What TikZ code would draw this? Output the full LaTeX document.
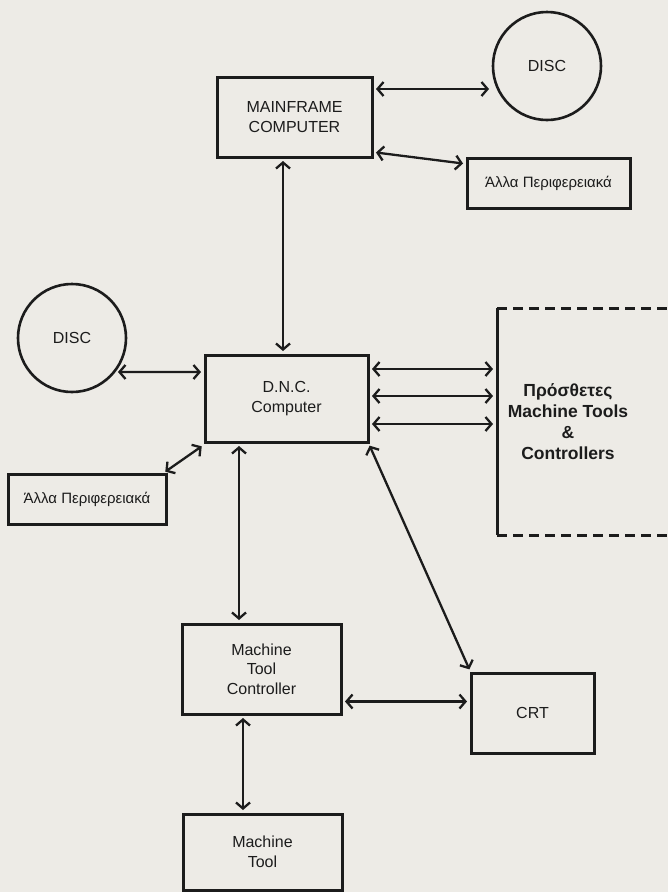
\documentclass[tikz,border=0pt]{standalone}
\usepackage{fontspec}
\setmainfont{Liberation Sans}
\usepackage{tikz}
\usetikzlibrary{arrows.meta,positioning,calc}
\definecolor{paper}{RGB}{237,235,230}
\definecolor{ink}{RGB}{28,28,28}

\begin{document}
\begin{tikzpicture}[
    x=1pt, y=1pt,
    every node/.style={font=\fontsize{16}{19.5}\selectfont, text=ink},
    unitbox/.style={draw=ink, line width=3pt, inner sep=0pt, outer sep=0pt,
                    align=center},
    discnode/.style={draw=ink, circle, line width=2.6pt, minimum size=108pt,
                     inner sep=0pt, outer sep=0pt},
    periph/.style={unitbox, minimum height=50pt,
                   font=\fontsize{15}{18}\selectfont},
    arr/.style={{Straight Barb[length=6pt,width=14pt]}-{Straight Barb[length=6pt,width=14pt]},
                draw=ink, line width=2.3pt, shorten <=4pt, shorten >=4pt}
  ]
  \path[use as bounding box, fill=paper] (0,0) rectangle (668,-892);

  % Centre: D.N.C.
  \node[unitbox, minimum width=163pt, minimum height=87pt] (dnc) at (286.5,-398.5)
    {D.N.C.\\Computer};
  \node[discnode, left=79pt of dnc, yshift=60.5pt] (disc2) {DISC};
  \node[periph, minimum width=158pt, below left=32pt and 39pt of dnc] (per2)
    {Άλλα Περιφερειακά};

  % Top: mainframe
  \node[unitbox, minimum width=155pt, minimum height=80pt, above=198pt of dnc,
        xshift=8pt] (mf) {MAINFRAME\\COMPUTER};
  \node[discnode, right=121pt of mf, yshift=51pt] (disc1) {DISC};
  \node[periph, minimum width=163pt, right=95pt of mf, yshift=-66.5pt] (per1)
    {Άλλα Περιφερειακά};

  % Right: further machines (box runs off the page)
  \node[minimum width=142pt, minimum height=227pt, inner sep=0pt, outer sep=0pt,
        align=center, font=\fontsize{17.5}{21}\selectfont\bfseries,
        right=129pt of dnc, yshift=-23pt] (more)
    {Πρόσθετες\\Machine Tools\\\&\\Controllers};
  \draw[ink, line width=3pt] (more.north west) -- (more.south west);
  \draw[ink, line width=3pt, dash pattern=on 10pt off 6pt]
    (more.north west) -- ([xshift=29pt]more.north east);
  \draw[ink, line width=3pt, dash pattern=on 10pt off 6pt]
    (more.south west) -- ([xshift=29pt]more.south east);

  % Bottom: controller, CRT, machine
  \node[unitbox, minimum width=159pt, minimum height=90pt, below=182pt of dnc,
        xshift=-25pt] (mtc) {Machine\\Tool\\Controller};
  \node[unitbox, minimum width=123pt, minimum height=80pt, right=130pt of mtc,
        yshift=-44pt] (crt) {CRT};
  \node[unitbox, minimum width=159pt, minimum height=76pt, below=100pt of mtc,
        xshift=1pt] (mt) {Machine\\Tool};

  % Links
  \draw[arr] ([yshift=28pt]mf.east) -- ([yshift=28pt]mf.east -| disc1.west);
  \draw[arr] ([yshift=-35pt]mf.east) -- ([yshift=19.5pt]per1.west);
  \draw[arr] ([xshift=-3.5pt]dnc.north) -- ([xshift=-3.5pt]dnc.north |- mf.south);
  \draw[arr] (disc2.-39) -- ([yshift=26.5pt]dnc.west);
  \draw[arr] ([xshift=-4pt]per2.north east) -- ([yshift=-2pt]dnc.south west);
  \draw[arr] ([yshift=29.5pt]dnc.east) -- ([yshift=29.5pt]dnc.east -| more.west);
  \draw[arr] ([yshift=2.5pt]dnc.east) -- ([yshift=2.5pt]dnc.east -| more.west);
  \draw[arr] ([yshift=-25.5pt]dnc.east) -- ([yshift=-25.5pt]dnc.east -| more.west);
  \draw[arr] ([xshift=-47.5pt]dnc.south) -- ([xshift=-47.5pt]dnc.south |- mtc.north);
  \draw[arr] (dnc.south east) -- (crt.north west);
  \draw[arr] ([yshift=-32.5pt]mtc.east) -- ([yshift=-32.5pt]mtc.east -| crt.west);
  \draw[arr] ([xshift=-18.5pt]mtc.south) -- ([xshift=-18.5pt]mtc.south |- mt.north);
\end{tikzpicture}
\end{document}
